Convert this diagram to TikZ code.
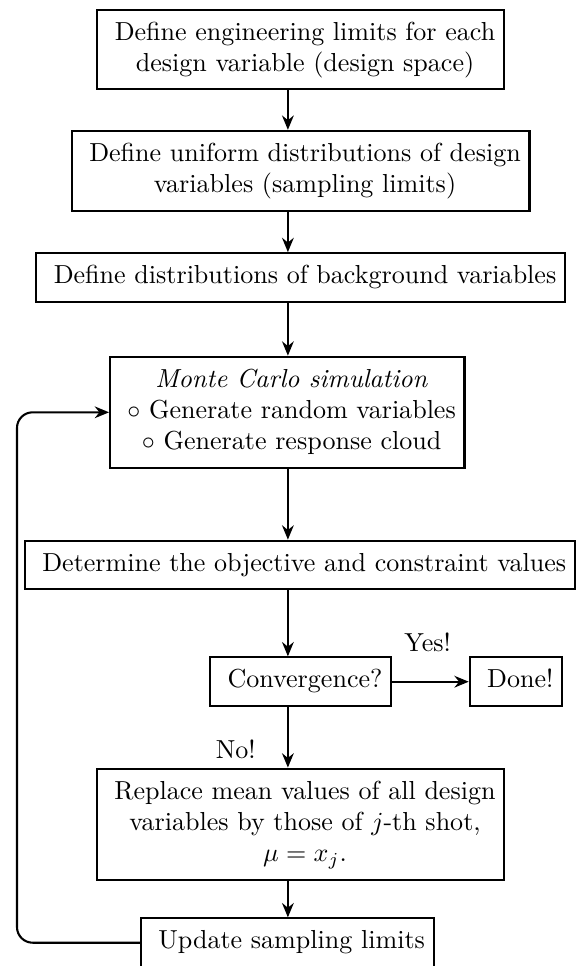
\documentclass[tikz,border=0pt]{standalone}
\usetikzlibrary{arrows.meta}
\newcommand\lsp{\hspace*{0.3333em}\strut}
\begin{document}
\begin{tikzpicture}[x=0.3839pt,y=-0.3839pt,
  box/.style={draw, thick, align=center, font=\fontsize{10}{12}\selectfont},
  arr/.style={thick, -{Stealth[length=5.5pt,width=4.5pt,inset=1.8pt]}},
  lbl/.style={anchor=base, font=\fontsize{10}{12}\selectfont}]
\useasboundingbox (0,0) rectangle (578,966);
\coordinate (ax) at (287.9,0);
\node[box] (b1) at (300.7,49.5) {\lsp Define engineering limits for each\\\lsp design variable (design space)};
\node[box] (b2) at (300.7,170.8) {\lsp Define uniform distributions of design\\\lsp variables (sampling limits)};
\node[box] (b3) at (300.7,277.5) {\lsp Define distributions of background variables};
\node[box] (mc) at (287.3,412.3) {\lsp\textit{Monte Carlo simulation}\\\lsp$\circ$ Generate random variables\\\lsp$\circ$ Generate response cloud};
\node[box] (b5) at (299.9,565) {\lsp Determine the objective and constraint values};
\node[box] (conv) at (300.65,681.7) {\lsp Convergence?};
\node[box] (done) at (515.9,681.7) {\lsp Done!};
\node[box] (rep) at (300.65,824.2) {\lsp Replace mean values of all design\\\lsp variables by those of $j$-th shot,\\\lsp$\mu = x_j$.};
\node[box] (upd) at (287.3,942.7) {\lsp Update sampling limits};
\node[lbl] (yes) at (427.6,651.7) {Yes!};
\node[lbl] (no) at (235.8,758) {No!};
\draw[arr] (b1.south -| ax) -- (b2.north -| ax);
\draw[arr] (b2.south -| ax) -- (b3.north -| ax);
\draw[arr] (b3.south -| ax) -- (mc.north -| ax);
\draw[arr] (mc.south -| ax) -- (b5.north -| ax);
\draw[arr] (b5.south -| ax) -- (conv.north -| ax);
\draw[arr] (conv.south -| ax) -- (rep.north -| ax);
\draw[arr] (rep.south -| ax) -- (upd.north -| ax);
\draw[arr] (conv.east) -- (done.west);
\coordinate (lp) at (17,700);
\draw[arr, rounded corners=6pt] (upd.west) -| (lp) |- (mc.west);
\end{tikzpicture}
\end{document}
